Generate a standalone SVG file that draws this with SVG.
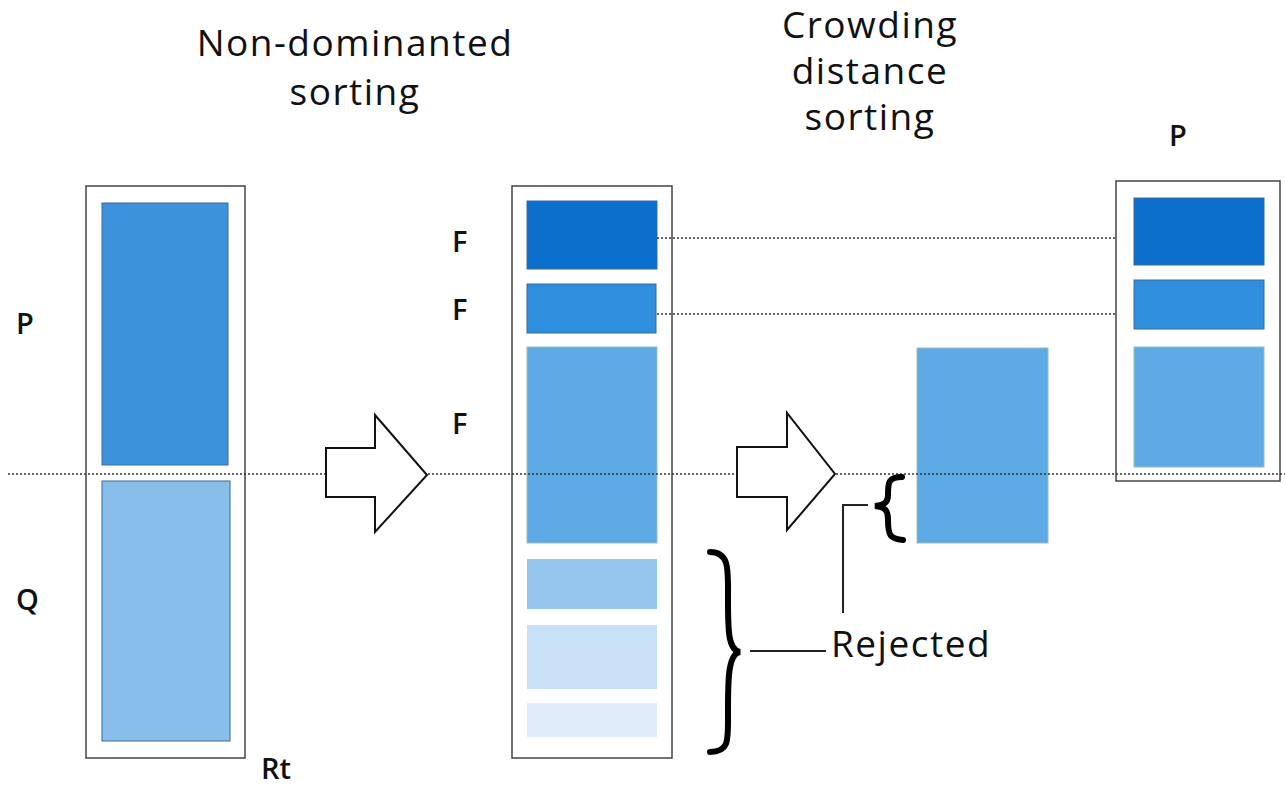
<svg xmlns="http://www.w3.org/2000/svg" width="1285" height="794" viewBox="0 0 1285 794">
<style>
.t{font-family:"Open Sans","Liberation Sans",sans-serif;fill:#111}
.big{font-size:37px;letter-spacing:1.5px}
.lab{font-size:29px;font-weight:600}
.box{fill:#fff;stroke:#444;stroke-width:1.5}
.blk{stroke:#3a6a9a;stroke-width:1}
.dot{stroke:#333;stroke-width:1.5;stroke-dasharray:2 2;fill:none}
.arr{fill:#fff;stroke:#111;stroke-width:2}
.br{fill:none;stroke:#000;stroke-width:6;stroke-linecap:round}
.ln{stroke:#222;stroke-width:2;fill:none}
</style>
<rect width="1285" height="794" fill="#fff"/>
<text class="t big" x="355" y="56" text-anchor="middle">Non-dominanted</text>
<text class="t big" x="355" y="105" text-anchor="middle">sorting</text>
<text class="t big" x="870" y="38" text-anchor="middle">Crowding</text>
<text class="t big" x="870" y="84" text-anchor="middle">distance</text>
<text class="t big" x="870" y="130" text-anchor="middle">sorting</text>
<g id="Rt">
<rect class="box" x="86" y="186" width="159" height="572"/>
<rect class="blk" x="102" y="203" width="126" height="262" fill="#3c93dc"/>
<rect class="blk" x="102" y="481" width="128" height="260" fill="#87bfea" stroke="#9cc"/>
<text class="t lab" x="16" y="334">P</text>
<text class="t lab" x="16" y="610">Q</text>
<text class="t lab" x="261" y="779">Rt</text>
</g>
<g id="F">
<rect class="box" x="512" y="186" width="160" height="572"/>
<rect class="blk" x="527" y="201" width="130" height="68" fill="#0b6fcb"/>
<rect class="blk" x="527" y="284" width="129" height="49" fill="#2f8fde"/>
<rect x="527" y="347" width="130" height="196" fill="#5eaae5" stroke="#9bb"/>
<rect x="527" y="559" width="130" height="50" fill="#95c7ee"/>
<rect x="527" y="625" width="130" height="64" fill="#c8e1f6"/>
<rect x="527" y="703" width="130" height="34" fill="#deedf9"/>
<text class="t lab" x="452" y="252">F</text>
<text class="t lab" x="452" y="320">F</text>
<text class="t lab" x="452" y="434">F</text>
</g>
<g id="cut"><rect x="917" y="348" width="131" height="195" fill="#5eaae5" stroke="#9bb"/></g>
<g id="Pnew">
<rect class="box" x="1116" y="181" width="164" height="300"/>
<rect class="blk" x="1134" y="198" width="130" height="67" fill="#0b6fcb"/>
<rect class="blk" x="1134" y="280" width="130" height="49" fill="#2f8fde"/>
<rect x="1134" y="347" width="130" height="120" fill="#5eaae5" stroke="#9bb"/>
<text class="t lab" x="1169" y="146">P</text>
</g>
<g id="connectors">
<line class="dot" x1="8" y1="474" x2="1285" y2="474"/>
<line class="dot" x1="657" y1="238" x2="1116" y2="238"/>
<line class="dot" x1="657" y1="314" x2="1116" y2="314"/>
<path class="arr" d="M326,448 H375 V415 L427,475 L375,532 V497 H326 Z"/>
<path class="arr" d="M737,447 H787 V413 L835,474 L787,530 V497 H737 Z"/>
<path class="br" d="M710,552 C730,552 728,570 728,600 C728,630 728,650 740,652 C728,654 728,680 728,710 C728,740 730,752 710,752"/>
<path class="br" d="M902,477 C888,477 888,483 888,495 C888,502 885,505 875,506 C885,507 888,510 888,520 C888,535 890,539 903,540"/>
<line class="ln" x1="750" y1="651" x2="826" y2="651"/>
<polyline class="ln" points="843,613 843,505 868,505"/>
</g>
<text class="t big" x="831" y="657">Rejected</text>
</svg>
